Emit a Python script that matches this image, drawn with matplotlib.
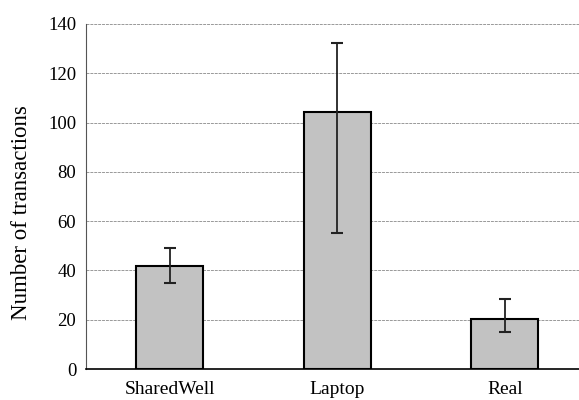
import numpy as np
from matplotlib import pyplot as plt

categories = ['SharedWell', 'Laptop', 'Real']
means = [41.8, 104.3, 20.3]
err_low = [6.9, 49.1, 5.2]
err_high = [7.3, 28.1, 8.1]
yticks = [0, 20, 40, 60, 80, 100, 120, 140]


def main():
    plt.rcParams['font.family'] = ['Liberation Serif', 'DejaVu Serif']

    fig = plt.figure(figsize=(5.79, 4.0), dpi=100)
    ax = fig.add_axes([86 / 579, 31 / 400, (588.75 - 86) / 579, 345 / 400])

    x = np.arange(len(categories))
    ax.bar(x, means, width=0.4, color='#c2c2c2', edgecolor='black',
           linewidth=1.5, zorder=3)
    ax.errorbar(x, means, yerr=[err_low, err_high], fmt='none',
                ecolor='#222222', elinewidth=1.3, capsize=4, capthick=1.5,
                zorder=4)

    ax.set_xlim(-0.5, 2.5)
    ax.set_ylim(0, 140)
    ax.set_yticks(yticks)
    ax.set_xticks(x)
    ax.set_xticklabels(categories, fontsize=14)
    ax.tick_params(axis='y', labelsize=13.5, length=0, pad=7)
    ax.tick_params(axis='x', length=0, pad=9)
    ax.yaxis.grid(True, color='#999999', linestyle=(0, (3, 1)), linewidth=0.7,
                  zorder=0)
    ax.set_ylabel('Number of transactions', fontsize=16.5)
    # label sits a bit below the axes centre in the original
    ax.yaxis.set_label_coords(-0.107, 0.452)

    for s in ['top', 'right']:
        ax.spines[s].set_visible(False)
    ax.spines['left'].set_color('#555555')
    ax.spines['left'].set_linewidth(0.8)
    ax.spines['bottom'].set_linewidth(1.2)

    fig.savefig('out.png', dpi=100)


if __name__ == '__main__':
    main()
